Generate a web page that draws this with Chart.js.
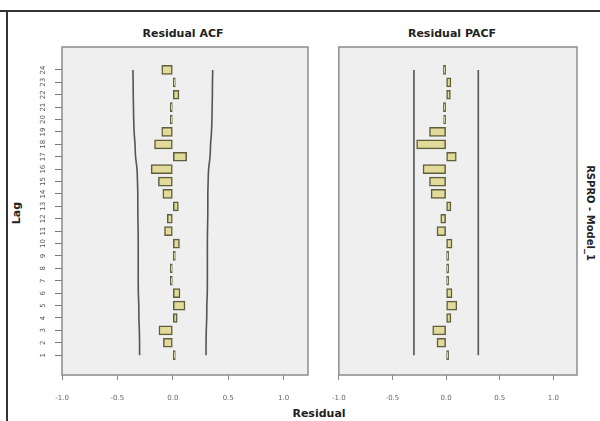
<!DOCTYPE html>
<html>
<head>
<meta charset="utf-8">
<script src="https://cdn.jsdelivr.net/npm/chart.js@4"></script>
<style>
  body { margin: 0; background: #fff; }
  #wrap { position: relative; width: 600px; height: 421px; overflow: hidden; font-family: "DejaVu Sans", sans-serif; }
  canvas { position: absolute; top: 0; }
  .txt { position: absolute; font-weight: bold; color: #222; white-space: nowrap; }
</style>
</head>
<body>
<div id="wrap">
  <div style="position:absolute;left:0;top:10px;width:600px;height:2px;background:#333"></div>
  <div style="position:absolute;left:6px;top:10px;width:2px;height:411px;background:#333"></div>
  <div class="txt" style="left:183px;top:33px;font-size:11px;transform:translate(-50%,-50%)">Residual ACF</div>
  <div class="txt" style="left:452px;top:33px;font-size:11px;transform:translate(-50%,-50%)">Residual PACF</div>
  <div class="txt" style="left:16px;top:213px;font-size:11px;transform:translate(-50%,-50%) rotate(-90deg)">Lag</div>
  <div class="txt" style="left:590px;top:213px;font-size:10px;transform:translate(-50%,-50%) rotate(90deg)">RSPRO - Model_1</div>
  <div class="txt" style="left:319px;top:413px;font-size:11px;transform:translate(-50%,-50%)">Residual</div>
  <canvas id="acf" style="left:0" width="318" height="421"></canvas>
  <canvas id="pacf" style="left:318px" width="282" height="421"></canvas>
</div>
<script>
const lags = [1, 2, 3, 4, 5, 6, 7, 8, 9, 10, 11, 12, 13, 14, 15, 16, 17, 18, 19, 20, 21, 22, 23, 24];
const xTicks = [-1.0, -0.5, 0.0, 0.5, 1.0];

const acfValues = [0.02, -0.085, -0.125, 0.04, 0.11, 0.065, -0.01, -0.005, 0.01, 0.06, -0.075, -0.05,
  0.05, -0.09, -0.13, -0.195, 0.125, -0.165, -0.1, -0.015, -0.01, 0.055, 0.01, -0.1];
const acfLimit = [0.30, 0.30, 0.302, 0.306, 0.307, 0.311, 0.312, 0.312, 0.312, 0.312, 0.313, 0.315,
  0.316, 0.316, 0.319, 0.323, 0.336, 0.341, 0.349, 0.353, 0.355, 0.357, 0.358, 0.36];

const pacfValues = [0.02, -0.085, -0.125, 0.045, 0.1, 0.055, 0.01, 0.02, 0.01, 0.055, -0.085, -0.05,
  0.045, -0.14, -0.155, -0.215, 0.095, -0.275, -0.155, -0.005, -0.025, 0.04, 0.045, -0.025];
const pacfLimit = [0.30, 0.30, 0.30, 0.30, 0.30, 0.30, 0.30, 0.30, 0.30, 0.30, 0.30, 0.30,
  0.30, 0.30, 0.30, 0.30, 0.30, 0.30, 0.30, 0.30, 0.30, 0.30, 0.30, 0.30];

// grey plot area with a thin frame, like the SPSS panels
const panelFrame = {
  id: 'panelFrame',
  beforeDraw(chart) {
    const { ctx, chartArea: a } = chart;
    ctx.save();
    ctx.fillStyle = '#efefef';
    ctx.fillRect(a.left, a.top, a.right - a.left, a.bottom - a.top);
    ctx.restore();
  },
  afterDraw(chart) {
    const { ctx, chartArea: a } = chart;
    ctx.save();
    ctx.strokeStyle = '#8c8c8c';
    ctx.lineWidth = 1.5;
    ctx.strokeRect(a.left, a.top, a.right - a.left, a.bottom - a.top);
    ctx.restore();
  }
};

function limitLine(limits, sign, curved) {
  return {
    type: 'line',
    data: lags.map((lag, i) => ({ x: sign * limits[i], y: lag })),
    borderColor: '#555',
    borderWidth: 1.6,
    pointRadius: 0,
    tension: curved ? 0.4 : 0,
    fill: false
  };
}

function makeChart(id, values, limits, curved, showLags, padding) {
  return new Chart(document.getElementById(id), {
    type: 'bar',
    data: {
      datasets: [
        limitLine(limits, -1, curved),
        limitLine(limits, 1, curved),
        {
          data: lags.map((lag, i) => ({ x: values[i], y: lag })),
          backgroundColor: '#e1da98',
          borderColor: '#5e5e3c',
          borderWidth: 1.5,
          borderSkipped: false,
          minBarLength: 2.5,
          barThickness: 9
        }
      ]
    },
    options: {
      responsive: false,
      animation: false,
      indexAxis: 'y',
      layout: { padding: padding },
      plugins: { legend: { display: false }, tooltip: { enabled: false } },
      scales: {
        x: {
          type: 'linear',
          min: -1.0,
          max: 1.22,
          afterBuildTicks: (scale) => { scale.ticks = xTicks.map(v => ({ value: v })); },
          afterFit: (scale) => { scale.height = 46; },
          border: { display: false },
          grid: { drawOnChartArea: false, drawTicks: true, tickLength: 5, color: '#888' },
          ticks: {
            padding: 14,
            color: '#666',
            font: { family: 'DejaVu Sans', size: 7 },
            maxRotation: 0,
            callback: (v) => v.toFixed(1)
          }
        },
        y: {
          type: 'linear',
          display: showLags,
          offset: false,
          min: -0.6,
          max: 25.85,
          afterBuildTicks: (scale) => { scale.ticks = lags.map(v => ({ value: v })); },
          afterFit: (scale) => { scale.width = showLags ? 62 : 0; },
          border: { display: false },
          grid: { offset: false, drawOnChartArea: false, drawTicks: true, tickLength: 7, color: '#777' },
          ticks: {
            padding: 7,
            color: '#555',
            font: { family: 'DejaVu Sans', size: 7 },
            minRotation: 90,
            maxRotation: 90,
            crossAlign: 'center',
            callback: (v) => String(v)
          }
        }
      }
    },
    plugins: [panelFrame]
  });
}

makeChart('acf', acfValues, acfLimit, true, true, { top: 47, right: 10, left: 0, bottom: 0 });
makeChart('pacf', pacfValues, pacfLimit, false, false, { top: 47, right: 23, left: 10, bottom: 0 });
</script>
</body>
</html>
